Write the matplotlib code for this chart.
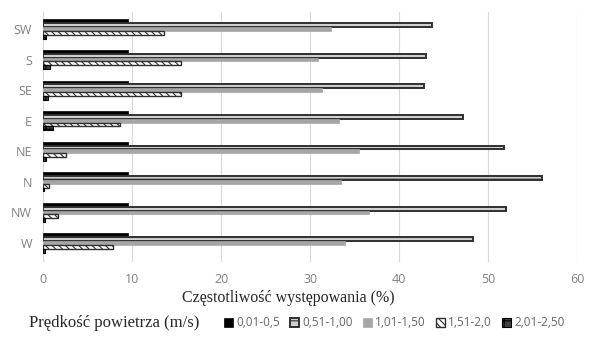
import matplotlib
matplotlib.use("Agg")
import matplotlib.pyplot as plt
import numpy as np
from matplotlib.patches import Patch

directions = ["W", "NW", "N", "NE", "E", "SE", "S", "SW"]
speed_classes = ["0,01-0,5", "0,51-1,00", "1,01-1,50", "1,51-2,0", "2,01-2,50"]

v_001_05 = [9.5, 9.5, 9.6, 9.5, 9.5, 9.5, 9.5, 9.5]
v_051_100 = [48.3, 52.0, 56.0, 51.8, 47.2, 42.8, 43.0, 43.7]
v_101_150 = [33.9, 36.6, 33.5, 35.5, 33.2, 31.3, 30.9, 32.4]
v_151_20 = [7.9, 1.7, 0.7, 2.6, 8.7, 15.5, 15.5, 13.6]
v_201_250 = [0.2, 0.2, 0.1, 0.3, 1.1, 0.6, 0.8, 0.3]

x_ticks = [0, 10, 20, 30, 40, 50, 60]

series = [v_001_05, v_051_100, v_101_150, v_151_20, v_201_250]
styles = [
    dict(color="#000000", edgecolor="#000000", linewidth=0.5, hatch=None),
    dict(color="#d0d0d0", edgecolor="#303030", linewidth=1.4, hatch="--"),
    dict(color="#a6a6a6", edgecolor="#a6a6a6", linewidth=0.5, hatch=None),
    dict(color="#ffffff", edgecolor="#303030", linewidth=1.0, hatch="\\\\\\\\\\"),
    dict(color="#404040", edgecolor="#000000", linewidth=0.8, hatch="++"),
]

plt.rcParams["hatch.linewidth"] = 0.8

fig = plt.figure(figsize=(5.89, 3.38), dpi=100)
ax = fig.add_axes([0.073, 0.225, 0.907, 0.74])

y = np.arange(len(directions))
h = 0.125
for i, (vals, st) in enumerate(zip(series, styles)):
    offs = (2 - i) * h
    ax.barh(y + offs, vals, height=h, color=st["color"], edgecolor=st["edgecolor"],
            linewidth=st["linewidth"], hatch=st["hatch"], zorder=3,
            label=speed_classes[i])

ax.set_xlim(0, 60)
ax.set_ylim(-0.62, 7.56)
ax.set_xticks(x_ticks)
ax.set_xticklabels([str(t) for t in x_ticks])
ax.set_yticks(y)
ax.set_yticklabels(directions)
ax.grid(axis="x", color="#d9d9d9", linewidth=0.8, zorder=0)
for s in ax.spines.values():
    s.set_visible(False)
ax.tick_params(length=0, labelsize=9, labelcolor="#808080", pad=8)
for lbl in ax.get_xticklabels() + ax.get_yticklabels():
    lbl.set_fontfamily("Open Sans")

fig.text(0.49, 0.118, "Częstotliwość występowania (%)", ha="center", va="center",
         fontsize=11.5, family="Liberation Serif", color="#262626")
fig.text(0.05, 0.045, "Prędkość powietrza (m/s)", ha="left", va="center",
         fontsize=12, family="Liberation Serif", color="#262626")

handles = [Patch(facecolor=st["color"], edgecolor=st["edgecolor"], hatch=st["hatch"],
                 linewidth=st["linewidth"]) for st in styles]
leg = fig.legend(handles, speed_classes, loc="center left", bbox_to_anchor=(0.37, 0.045),
                 ncol=5, frameon=False, fontsize=8.5, handlelength=0.8, handleheight=0.8,
                 handletextpad=0.25, columnspacing=0.85, borderpad=0)
for t in leg.get_texts():
    t.set_color("#666666")
    t.set_fontfamily("Open Sans")

fig.savefig("out.png", dpi=100)
